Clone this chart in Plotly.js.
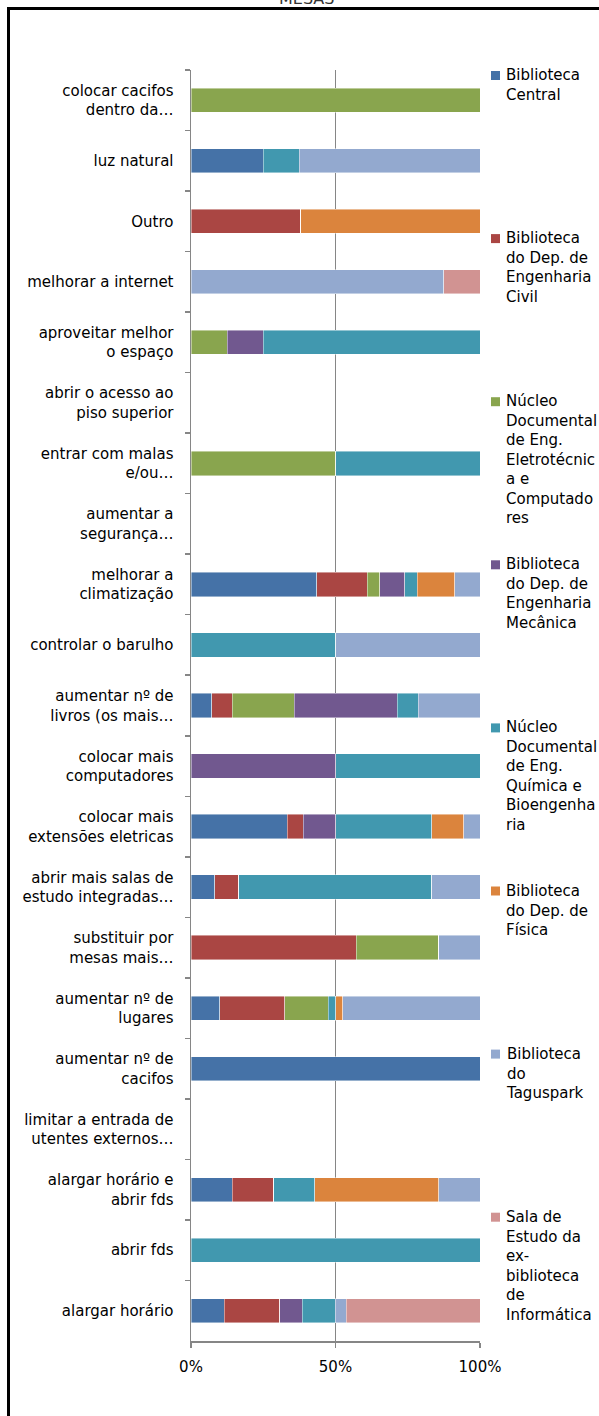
<!DOCTYPE html>
<html>
<head>
<meta charset="utf-8">
<script src="https://cdn.plot.ly/plotly-3.0.1.min.js"></script>
<style>
html,body{margin:0;padding:0;background:#fff;}
#chart{width:599px;height:1416px;}
</style>
</head>
<body>
<div id="chart"></div>
<script>
// ---- data ----
const categories = [
  "colocar cacifos<br>dentro da…",
  "luz natural",
  "Outro",
  "melhorar a internet",
  "aproveitar melhor<br>o espaço",
  "abrir o acesso ao<br>piso superior",
  "entrar com malas<br>e/ou…",
  "aumentar a<br>segurança…",
  "melhorar a<br>climatização",
  "controlar o barulho",
  "aumentar nº de<br>livros (os mais…",
  "colocar mais<br>computadores",
  "colocar mais<br>extensões eletricas",
  "abrir mais salas de<br>estudo integradas…",
  "substituir por<br>mesas mais…",
  "aumentar nº de<br>lugares",
  "aumentar nº de<br>cacifos",
  "limitar a entrada de<br>utentes externos…",
  "alargar horário e<br>abrir fds",
  "abrir fds",
  "alargar horário"
];

const seriesNames = [
  "Biblioteca Central",
  "Biblioteca do Dep. de Engenharia Civil",
  "Núcleo Documental de Eng. Eletrotécnica e Computadores",
  "Biblioteca do Dep. de Engenharia Mecânica",
  "Núcleo Documental de Eng. Química e Bioengenharia",
  "Biblioteca do Dep. de Física",
  "Biblioteca do Taguspark",
  "Sala de Estudo da ex-biblioteca de Informática"
];
const legendLabels = [
  "Biblioteca<br>Central",
  "Biblioteca<br>do Dep. de<br>Engenharia<br>Civil",
  "Núcleo<br>Documental<br>de Eng.<br>Eletrotécnic<br>a e<br>Computado<br>res",
  "Biblioteca<br>do Dep. de<br>Engenharia<br>Mecânica",
  "Núcleo<br>Documental<br>de Eng.<br>Química e<br>Bioengenha<br>ria",
  "Biblioteca<br>do Dep. de<br>Física",
  "Biblioteca<br>do<br>Taguspark",
  "Sala de<br>Estudo da<br>ex-<br>biblioteca<br>de<br>Informática"
];

const bibCentral   = [0,25,0,0,0,0,0,0,43.5,0,7.1,0,33.3,8.3,0,10,100,0,14.3,0,11.5];
const bibCivil     = [0,0,38,0,0,0,0,0,17.4,0,7.1,0,5.6,8.3,57.1,22.5,0,0,14.3,0,19.2];
const nucEletro    = [100,0,0,0,12.5,0,50,0,4.3,0,21.4,0,0,0,28.6,15,0,0,0,0,0];
const bibMecanica  = [0,0,0,0,12.5,0,0,0,8.7,0,35.7,50,11.1,0,0,0,0,0,0,0,7.7];
const nucQuimica   = [0,12.5,0,0,75,0,50,0,4.3,50,7.1,50,33.3,66.7,0,2.5,0,0,14.3,100,11.5];
const bibFisica    = [0,0,62,0,0,0,0,0,13,0,0,0,11.1,0,0,2.5,0,0,42.9,0,0];
const bibTaguspark = [0,62.5,0,87.5,0,0,0,0,8.7,50,21.4,0,5.6,16.7,14.3,47.5,0,0,14.3,0,3.8];
const salaInfo     = [0,0,0,12.5,0,0,0,0,0,0,0,0,0,0,0,0,0,0,0,0,46.2];

const seriesValues = [bibCentral,bibCivil,nucEletro,bibMecanica,nucQuimica,bibFisica,bibTaguspark,salaInfo];
const colors = ["#4572A7","#AA4643","#89A54E","#71588F","#4198AF","#DB843D","#93A9CF","#D19392"];

const xTickVals = [0,50,100];
const xTickText = ["0%","50%","100%"];

// ---- layout geometry ----
const W = 599, H = 1416;
const L = 191, R = 480, T = 70, B = 1341;
const px2x = px => (px - L) / (R - L);
const py2y = py => (B - py) / (B - T);
const FONT = "'DejaVu Sans', sans-serif";
const FS = 15;

const traces = seriesNames.map((n, i) => ({
  type: "bar",
  orientation: "h",
  name: n,
  y: categories,
  x: seriesValues[i],
  marker: {color: colors[i], line: {color: "rgba(255,255,255,0.55)", width: 0.8}},
  hoverinfo: "skip",
  showlegend: false
}));

const annotations = [];
const shapes = [];
// legend drawn as annotations + colour squares
const legTop = 64, legStep = 163.1;
legendLabels.forEach((t, i) => {
  const top = legTop + i * legStep;
  annotations.push({
    xref: "paper", yref: "paper",
    x: px2x(504), y: py2y(top),
    xanchor: "left", yanchor: "top", align: "left",
    text: t, showarrow: false,
    font: {family: FONT, size: FS, color: "#000"}
  });
  shapes.push({
    type: "rect", xref: "paper", yref: "paper",
    x0: px2x(491), x1: px2x(500), y0: py2y(top + 7), y1: py2y(top + 16),
    fillcolor: colors[i], line: {width: 0}
  });
});

// clipped title at top of page (only lower part visible, as in the source)
annotations.push({
  xref: "paper", yref: "paper",
  x: px2x(306), y: py2y(10),
  xanchor: "center", yanchor: "bottom",
  text: "MESAS", showarrow: false,
  font: {family: FONT, size: 16, color: "#333"}
});

// page frame (black border)
shapes.push({type: "line", xref: "paper", yref: "paper",
  x0: px2x(7), x1: px2x(620), y0: py2y(8.5), y1: py2y(8.5),
  line: {color: "#000", width: 3}});
shapes.push({type: "line", xref: "paper", yref: "paper",
  x0: px2x(8.5), x1: px2x(8.5), y0: py2y(7), y1: py2y(1430),
  line: {color: "#000", width: 3}});

const layout = {
  width: W, height: H,
  margin: {l: L, r: W - R, t: T, b: H - B, pad: 0},
  paper_bgcolor: "#fff", plot_bgcolor: "#fff",
  barmode: "stack",
  barnorm: "percent",
  bargap: 0.6,
  showlegend: false,
  font: {family: FONT, size: FS, color: "#000"},
  xaxis: {
    range: [0, 100],
    tickvals: xTickVals, ticktext: xTickText,
    ticks: "outside", ticklen: 5, tickwidth: 1.5, tickcolor: "#868686",
    showgrid: true, gridcolor: "#868686", gridwidth: 1.5,
    zeroline: false,
    showline: true, linecolor: "#868686", linewidth: 1.5,
    ticklabelstandoff: 6,
    tickfont: {family: FONT, size: FS, color: "#000"},
    fixedrange: true
  },
  yaxis: {
    type: "category",
    autorange: "reversed",
    tickson: "boundaries",
    ticks: "outside", ticklen: 5, tickwidth: 1.5, tickcolor: "#868686",
    showline: true, linecolor: "#868686", linewidth: 1.5,
    showgrid: false, zeroline: false,
    ticklabelstandoff: 13,
    tickfont: {family: FONT, size: FS, color: "#000"},
    fixedrange: true
  },
  annotations: annotations,
  shapes: shapes
};

Plotly.newPlot("chart", traces, layout, {staticPlot: true, displayModeBar: false});
</script>
</body>
</html>
